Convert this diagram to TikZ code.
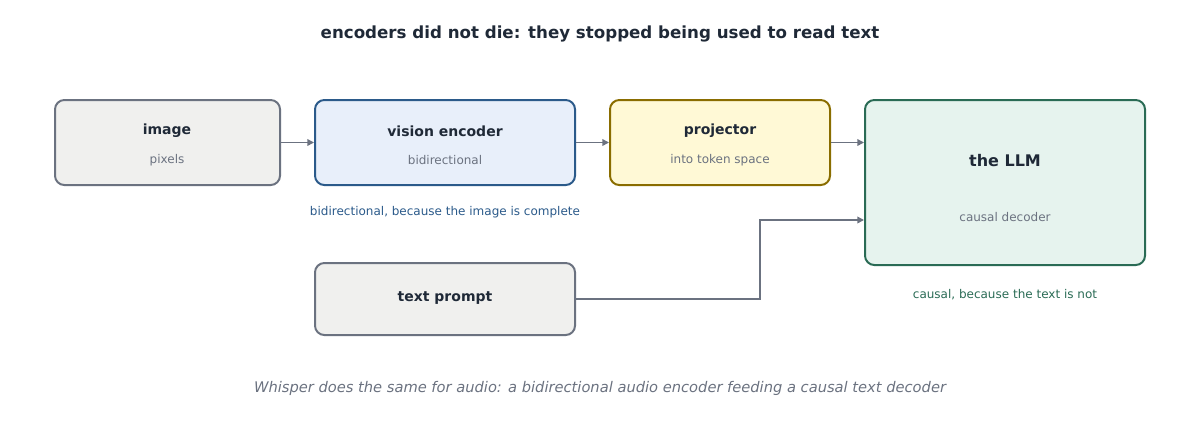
\documentclass[tikz,border=0pt]{standalone}
\usepackage{fontspec}
\setmainfont{DejaVu Sans}
\usetikzlibrary{arrows.meta}
\definecolor{gtxt}{HTML}{6B7280}
\definecolor{dark}{HTML}{1F2937}
\definecolor{bl}{HTML}{2B5A8A}
\definecolor{yl}{HTML}{8A6D00}
\definecolor{gr}{HTML}{2A6B55}
\definecolor{fg}{HTML}{F0F0EE}
\definecolor{fb}{HTML}{E8EFFA}
\definecolor{fy}{HTML}{FFF9D6}
\definecolor{fgr}{HTML}{E6F3EE}
\begin{document}
\begin{tikzpicture}[x=0.75pt,y=-0.75pt,
 box/.style 2 args={draw=#1,fill=#2,line width=1.5pt,rounded corners=7pt,inner sep=0pt},
 ttl/.style={font=\bfseries\fontsize{10.5}{12}\selectfont,text=dark},
 sub/.style={font=\fontsize{9}{11}\selectfont,text=gtxt},
 captxt/.style={font=\fontsize{9}{11}\selectfont},
 arr/.style={draw=gtxt,line width=1.1pt,-{Triangle[length=5pt,width=5pt]}}]
\useasboundingbox (0,0) rectangle (1200,440);
\node[font=\bfseries\fontsize{12.5}{14}\selectfont,text=dark] (t) at (600,34) {encoders did not die: they stopped being used to read text};
\node[box={gtxt}{fg},minimum width=168.75pt,minimum height=63.75pt] (img) at (167.5,142.5) {};
\node[ttl] (img1) at (167,131) {image};
\node[sub] (img2) at (167,160) {pixels};
\node[box={bl}{fb},minimum width=195pt,minimum height=63.75pt] (enc) at (445,142.5) {};
\node[ttl] (enc1) at (445,131) {vision encoder};
\node[sub] (enc2) at (445,160) {bidirectional};
\node[captxt,text=bl] (encc) at (445,212) {bidirectional, because the image is complete};
\node[box={yl}{fy},minimum width=165pt,minimum height=63.75pt] (proj) at (720,142.5) {};
\node[ttl] (proj1) at (720,131) {projector};
\node[sub] (proj2) at (720,160) {into token space};
\node[box={gr}{fgr},minimum width=210pt,minimum height=123.75pt] (llm) at (1005,182.5) {};
\node[ttl,font=\bfseries\fontsize{12}{14}\selectfont] (llm1) at (1005,161) {the LLM};
\node[sub] (llm2) at (1005,217) {causal decoder};
\node[captxt,text=gr] (llmc) at (1005,295) {causal, because the text is not};
\node[box={gtxt}{fg},minimum width=195pt,minimum height=54pt] (tp) at (445,299) {};
\node[ttl] (tp1) at (445,298) {text prompt};
\coordinate (k) at (760,299);
\coordinate (k2) at (760,220);
\draw[arr] (img.east) -- (enc.west);
\draw[arr] (enc.east) -- (proj.west);
\draw[arr] (proj.east) -- (proj.east-|llm.west);
\draw[arr] (tp.east) -- (k) -- (k2) -- (k2-|llm.west);
\node[font=\itshape\fontsize{11}{13}\selectfont,text=gtxt] (foot) at (600,388) {Whisper does the same for audio: a bidirectional audio encoder feeding a causal text decoder};
\end{tikzpicture}
\end{document}
